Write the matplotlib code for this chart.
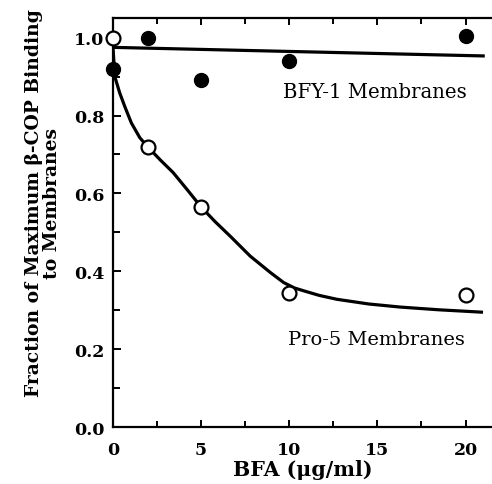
import matplotlib
matplotlib.use("Agg")
import matplotlib.pyplot as plt
from matplotlib.ticker import MultipleLocator

# Data
bfa = [0, 2, 5, 10, 20]
bfy1 = [0.92, 1.00, 0.89, 0.94, 1.005]
pro5 = [1.00, 0.72, 0.565, 0.345, 0.34]

# Fitted curves
bfy1_fit_x = [0, 21]
bfy1_fit_y = [0.975, 0.953]
pro5_fit_x = [0, 0.1, 0.38, 0.66, 1.04, 1.52, 2.0, 2.7, 3.4, 4.2, 5.0, 5.8, 6.65,
              7.78, 8.92, 9.68, 10.3, 10.8, 11.7, 12.7, 14.5, 16.3, 18.5, 20.9]
pro5_fit_y = [0.975, 0.90, 0.858, 0.824, 0.781, 0.743, 0.718, 0.685, 0.654, 0.61,
              0.565, 0.527, 0.49, 0.439, 0.397, 0.371, 0.357, 0.35, 0.338, 0.328,
              0.316, 0.308, 0.301, 0.295]

plt.rcParams['font.family'] = ['DejaVu Serif']

fig = plt.figure(figsize=(4.92, 4.85), dpi=100)
ax = fig.add_axes([0.2297, 0.1175, 0.7703, 0.843])

ax.plot(bfy1_fit_x, bfy1_fit_y, color='black', lw=2.3, zorder=2)
ax.plot(pro5_fit_x, pro5_fit_y, color='black', lw=2.3, zorder=2,
        solid_joinstyle='round')
ax.plot(bfa, bfy1, 'o', color='black', markersize=10, zorder=3, clip_on=False)
ax.plot(bfa, pro5, 'o', markerfacecolor='white', markeredgecolor='black',
        markeredgewidth=1.6, markersize=10, zorder=4, clip_on=False)

ax.set_xlim(0, 21.5)
ax.set_ylim(0, 1.05)

ax.spines['right'].set_visible(False)
for s in ['left', 'bottom', 'top']:
    ax.spines[s].set_linewidth(1.6)

ax.xaxis.set_major_locator(MultipleLocator(5))
ax.xaxis.set_minor_locator(MultipleLocator(2.5))
ax.yaxis.set_major_locator(MultipleLocator(0.2))
ax.yaxis.set_minor_locator(MultipleLocator(0.1))
ax.tick_params(axis='both', which='both', direction='in', width=1.4)
ax.tick_params(axis='x', which='major', length=5, top=True)
ax.tick_params(axis='x', which='minor', length=4, top=True)
ax.tick_params(axis='y', which='major', length=6)
ax.tick_params(axis='y', which='minor', length=5)
ax.tick_params(axis='y', which='major', labelsize=12.5, pad=6)
ax.tick_params(axis='x', which='major', labelsize=12.5, pad=10)
ax.set_xticks([0, 5, 10, 15, 20])
ax.set_yticks([0.0, 0.2, 0.4, 0.6, 0.8, 1.0])
ax.set_xticklabels(['0', '5', '10', '15', '20'], fontweight='bold')
ax.set_yticklabels(['0.0', '0.2', '0.4', '0.6', '0.8', '1.0'], fontweight='bold')

ax.set_xlabel('BFA (μg/ml)', fontsize=14.8, fontweight='bold', labelpad=1)
ax.set_ylabel('Fraction of Maximum β-COP Binding\nto Membranes', fontsize=13.5,
              fontweight='bold', linespacing=1.0)
ax.yaxis.set_label_coords(-0.137, 0.55)

ax.text(9.66, 0.862, 'BFY-1 Membranes', fontsize=14.2, va='center', ha='left')
ax.text(9.94, 0.226, 'Pro-5 Membranes', fontsize=14.0, va='center', ha='left')

fig.savefig('out.png', dpi=100)
